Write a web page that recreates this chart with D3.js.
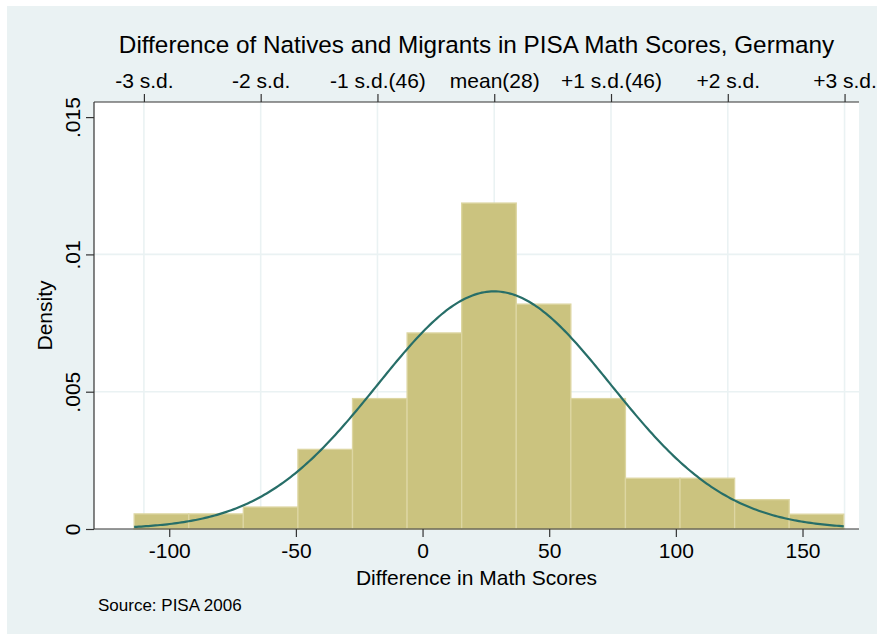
<!DOCTYPE html>
<html>
<head>
<meta charset="utf-8">
<script src="https://cdn.jsdelivr.net/npm/d3@7"></script>
<style>
  body { margin: 0; background: #fff; }
  svg { display: block; font-family: "Liberation Sans", Arial, sans-serif; }
</style>
</head>
<body>
<div id="chart"></div>
<script>
// histogram bins (left edge, width) and densities
const binStart = -113.85;
const binWidth = 21.55;
const densities = [0.00055, 0.00055, 0.00080, 0.00290, 0.00475, 0.00714, 0.01187,
                   0.00819, 0.00475, 0.00185, 0.00185, 0.00107, 0.00054];

// fitted normal: mean and sd as shown on the top axis
const meanVal = 28.3;
const sdVal = 46.1;
const sdSteps = [-3, -2, -1, 0, 1, 2, 3];
const sdLabels = ["-3 s.d.", "-2 s.d.", "-1 s.d.(46)", "mean(28)", "+1 s.d.(46)", "+2 s.d.", "+3 s.d."];

const xTicks = [-100, -50, 0, 50, 100, 150];
const xTickLabels = ["-100", "-50", "0", "50", "100", "150"];
const yTicks = [0, 0.005, 0.01, 0.015];
const yTickLabels = ["0", ".005", ".01", ".015"];

const width = 879;
const height = 635;
const plotLeft = 94, plotRight = 859, plotTop = 102, plotBottom = 529;

const bins = densities.map((d, i) => ({ x0: binStart + i * binWidth, x1: binStart + (i + 1) * binWidth, d: d }));

const x = d3.scaleLinear()
  .domain([-129.7, 172.3])
  .range([plotLeft, plotRight]);

const y = d3.scaleLinear()
  .domain([0, 0.01555])
  .range([plotBottom, plotTop]);

const svg = d3.select("#chart")
  .append("svg")
  .attr("width", width)
  .attr("height", height);

// outer background
svg.append("rect")
  .attr("x", 7).attr("y", 6)
  .attr("width", width - 9).attr("height", height - 7)
  .attr("fill", "#eaf2f3");

// plot region
svg.append("rect")
  .attr("x", plotLeft).attr("y", plotTop)
  .attr("width", plotRight - plotLeft).attr("height", plotBottom - plotTop)
  .attr("fill", "#ffffff");

// grid lines (vertical ones follow the s.d. ticks)
svg.append("g")
  .attr("stroke", "#eaf2f3")
  .attr("stroke-width", 1.6)
  .selectAll()
  .data(sdSteps)
  .join("line")
  .attr("x1", d => x(meanVal + d * sdVal))
  .attr("x2", d => x(meanVal + d * sdVal))
  .attr("y1", plotTop)
  .attr("y2", plotBottom);

svg.append("g")
  .attr("stroke", "#eaf2f3")
  .attr("stroke-width", 1.6)
  .selectAll()
  .data([0.005, 0.01])
  .join("line")
  .attr("x1", plotLeft)
  .attr("x2", plotRight)
  .attr("y1", d => y(d))
  .attr("y2", d => y(d));

// bars
svg.append("g")
  .attr("fill", "#cbc37f")
  .attr("stroke", "#ddd6a2")
  .attr("stroke-width", 1.3)
  .selectAll()
  .data(bins)
  .join("rect")
  .attr("x", d => x(d.x0))
  .attr("y", d => y(d.d))
  .attr("width", d => x(d.x1) - x(d.x0))
  .attr("height", d => y(0) - y(d.d));

// normal density curve
const curveX = d3.range(0, 301).map(i => binStart + i * (binWidth * densities.length) / 300);
const normal = v => Math.exp(-0.5 * ((v - meanVal) / sdVal) ** 2) / (sdVal * Math.sqrt(2 * Math.PI));

svg.append("path")
  .datum(curveX)
  .attr("fill", "none")
  .attr("stroke", "#276e68")
  .attr("stroke-width", 2.2)
  .attr("d", d3.line().x(d => x(d)).y(d => y(normal(d))));

// axes
const bottomAxis = svg.append("g")
  .attr("transform", `translate(0,${plotBottom})`)
  .call(d3.axisBottom(x).tickValues(xTicks).tickFormat((d, i) => xTickLabels[i])
    .tickSize(8).tickPadding(6).tickSizeOuter(0));

const topAxis = svg.append("g")
  .attr("transform", `translate(0,${plotTop})`)
  .call(d3.axisTop(x)
    .tickValues(sdSteps.map(d => meanVal + d * sdVal))
    .tickFormat((d, i) => sdLabels[i])
    .tickSize(8).tickPadding(6).tickSizeOuter(0));

const leftAxis = svg.append("g")
  .attr("transform", `translate(${plotLeft},0)`)
  .call(d3.axisLeft(y).tickValues(yTicks).tickFormat((d, i) => yTickLabels[i])
    .tickSize(8).tickSizeOuter(0));

[bottomAxis, topAxis, leftAxis].forEach(g => {
  g.select(".domain").attr("stroke", "#333").attr("stroke-width", 1.2);
  g.selectAll(".tick line").attr("stroke", "#333").attr("stroke-width", 1.2);
  g.selectAll(".tick text").attr("fill", "#000").style("font-size", "21px").style("font-family", "Liberation Sans, Arial, sans-serif");
});

// the bottom and top domain lines span the whole plot width
bottomAxis.select(".domain").attr("d", `M${plotLeft},0H${plotRight}`);
topAxis.select(".domain").attr("d", `M${plotLeft},0H${plotRight}`);
leftAxis.select(".domain").attr("d", `M0,${plotTop}V${plotBottom}`);

// rotated y tick labels
leftAxis.selectAll(".tick text")
  .attr("x", null).attr("dy", null)
  .attr("text-anchor", "middle")
  .attr("transform", "translate(-21,0) rotate(-90)")
  .attr("dy", "0.35em");

// titles
svg.append("text")
  .attr("x", (plotLeft + plotRight) / 2)
  .attr("y", 53)
  .attr("text-anchor", "middle")
  .style("font-size", "24.3px")
  .text("Difference of Natives and Migrants in PISA Math Scores, Germany");

svg.append("text")
  .attr("x", (plotLeft + plotRight) / 2)
  .attr("y", 585)
  .attr("text-anchor", "middle")
  .style("font-size", "21px")
  .text("Difference in Math Scores");

svg.append("text")
  .attr("transform", `translate(52,${(plotTop + plotBottom) / 2}) rotate(-90)`)
  .attr("text-anchor", "middle")
  .style("font-size", "21px")
  .text("Density");

svg.append("text")
  .attr("x", 98)
  .attr("y", 611)
  .style("font-size", "17px")
  .text("Source: PISA 2006");
</script>
</body>
</html>
